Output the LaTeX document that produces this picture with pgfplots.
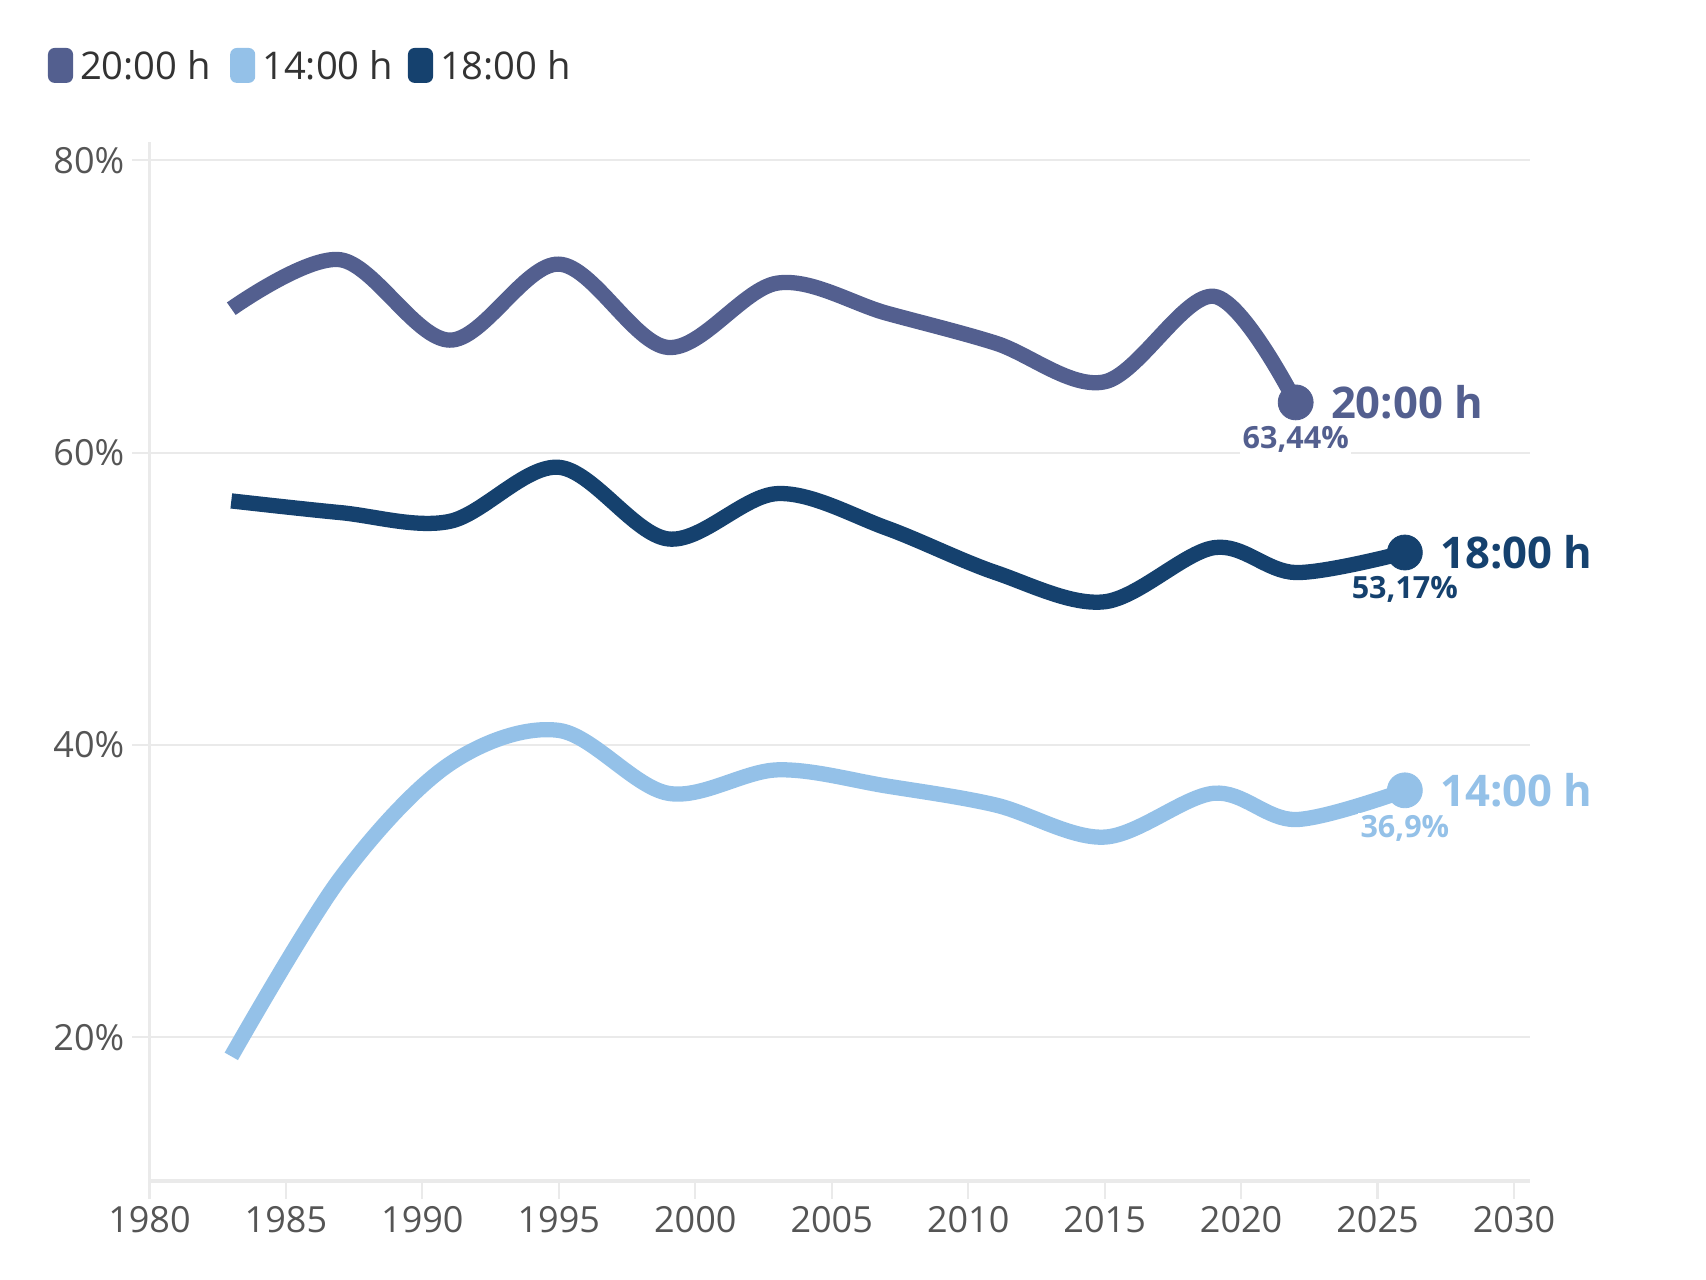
\documentclass[border=0pt]{standalone}
\usepackage{fontspec}
\setmainfont{Open Sans}
\usepackage{pgfplots}
\pgfplotsset{compat=1.18}
\definecolor{cA}{RGB}{83,95,143}
\definecolor{cB}{RGB}{148,193,232}
\definecolor{cC}{RGB}{21,65,110}
\definecolor{gridc}{RGB}{234,234,234}
\definecolor{tickc}{RGB}{85,85,85}
\definecolor{legc}{RGB}{51,51,51}
\begin{document}
\begin{tikzpicture}
\useasboundingbox (-68.5pt,-45pt) rectangle (713.5pt,541.5pt);
\begin{axis}[
  at={(0,0)}, anchor=south west,
  scale only axis, width=633pt, height=476.5pt,
  xmin=1980, xmax=2030.6, ymin=10.15, ymax=81.27,
  axis x line*=bottom, axis y line*=left,
  x axis line style={-, line width=1.8pt, draw=gridc},
  y axis line style={-, line width=1pt, draw=gridc},
  xtick={1980,1985,...,2030}, ytick={20,40,60,80},
  tick align=outside, major tick length=8pt,
  tick style={draw=gridc, line width=1pt},
  ymajorgrids, grid style={draw=gridc, line width=1pt},
  /pgf/number format/assume math mode=true,
  xticklabel style={/pgf/number format/1000 sep={}, font=\fontsize{16.5}{18}\selectfont, text=tickc},
  yticklabel={\pgfmathprintnumber{\tick}\%},
  yticklabel style={font=\fontsize{16.5}{18}\selectfont, text=tickc},
  clip=false,
  line join=round,
]
\addplot[cA, line width=7pt, smooth, tension=0.55] coordinates {
 (1983,69.85) (1987,73.2) (1991,67.7) (1995,72.9) (1999,67.2) (2003,71.6)
 (2007,69.55) (2011,67.5) (2015,64.85) (2019,70.7) (2022,63.44)};
\addplot[cC, line width=7pt, smooth, tension=0.55] coordinates {
 (1983,56.7) (1987,55.9) (1991,55.3) (1995,59.0) (1999,54.1) (2003,57.2)
 (2007,54.85) (2011,51.8) (2015,49.8) (2019,53.5) (2022,51.8) (2026,53.17)};
\addplot[cB, line width=7pt, smooth, tension=0.55] coordinates {
 (1983,18.7) (1987,30.9) (1991,38.7) (1995,41.0) (1999,36.7) (2003,38.3)
 (2007,37.2) (2011,35.9) (2015,33.7) (2019,36.7) (2022,34.9) (2026,36.9)};
\addplot[cA, only marks, mark=*, mark size=8pt] coordinates {(2022,63.44)};
\addplot[cC, only marks, mark=*, mark size=8pt] coordinates {(2026,53.17)};
\addplot[cB, only marks, mark=*, mark size=8pt] coordinates {(2026,36.9)};
\node[anchor=west, inner sep=0pt, xshift=16pt, text=cA, font=\bfseries\fontsize{20}{24}\selectfont] at (axis cs:2022,63.44) {20:00 h};
\node[anchor=west, inner sep=0pt, xshift=16pt, text=cC, font=\bfseries\fontsize{20}{24}\selectfont] at (axis cs:2026,53.17) {18:00 h};
\node[anchor=west, inner sep=0pt, xshift=16pt, text=cB, font=\bfseries\fontsize{20}{24}\selectfont] at (axis cs:2026,36.9) {14:00 h};
\node[fill=white, inner sep=1pt, yshift=-17pt, text=cA, font=\bfseries\fontsize{14}{16}\selectfont] at (axis cs:2022,63.44) {63,44\%};
\node[fill=white, inner sep=1pt, yshift=-17pt, text=cC, font=\bfseries\fontsize{14}{16}\selectfont] at (axis cs:2026,53.17) {53,17\%};
\node[fill=white, inner sep=1pt, yshift=-17.5pt, text=cB, font=\bfseries\fontsize{14}{16}\selectfont] at (axis cs:2026,36.9) {36,9\%};
\end{axis}
\fill[cA, rounded corners=3pt] (-46.5pt,503.5pt) rectangle (-35pt,519.5pt);
\node[anchor=west, inner sep=0pt, text=legc, font=\fontsize{17.5}{20}\selectfont] at (-32pt,511.5pt) {20:00 h};
\fill[cB, rounded corners=3pt] (37pt,503.5pt) rectangle (48.5pt,519.5pt);
\node[anchor=west, inner sep=0pt, text=legc, font=\fontsize{17.5}{20}\selectfont] at (51.5pt,511.5pt) {14:00 h};
\fill[cC, rounded corners=3pt] (118.5pt,503.5pt) rectangle (130pt,519.5pt);
\node[anchor=west, inner sep=0pt, text=legc, font=\fontsize{17.5}{20}\selectfont] at (133pt,511.5pt) {18:00 h};
\end{tikzpicture}
\end{document}
